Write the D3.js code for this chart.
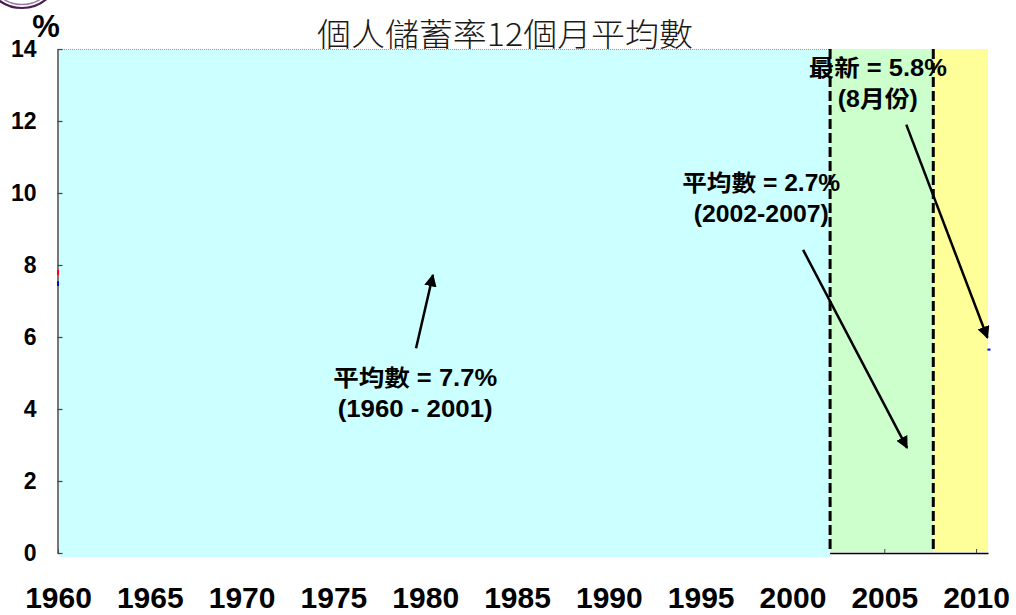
<!DOCTYPE html>
<html>
<head>
<meta charset="utf-8">
<script src="https://cdn.jsdelivr.net/npm/d3@7"></script>
<style>
  body { margin: 0; background: #fff; }
  svg { display: block; }
  text { font-family: "Liberation Sans", Arial, "Noto Sans CJK TC", sans-serif; }
</style>
</head>
<body>
<svg id="chart" width="1016" height="615"></svg>
<script>
(function() {

  // period bands (years) and their colours
  var bandNames = ["1960-2001", "2002-2007", "latest"];
  var bandStart = [1960, 2002.05, 2007.67];
  var bandEnd = [2002.05, 2007.67, 2010.65];
  var bandColors = ["#ccffff", "#ccffcc", "#ffff99"];

  // dashed period separators
  var dividers = [2002.05, 2007.67];

  var xTickYears = [1960, 1965, 1970, 1975, 1980, 1985, 1990, 1995, 2000, 2005, 2010];
  var yTicks = [0, 2, 4, 6, 8, 10, 12, 14];

  // what is left of the data lines at the edges of the plot
  var edgeYears = [1960, 1960, 2010.62];
  var edgeFrom = [7.72, 7.42, 5.65];
  var edgeTo = [7.86, 7.55, 5.65];
  var edgeColors = ["#ff0000", "#0000ff", "#0000ff"];

  // annotation labels: anchor (year, value) and two text lines
  var noteLine1 = ["平均數 = 7.7%", "平均數 = 2.7%", "最新 = 5.8%"];
  var noteLine2 = ["(1960 - 2001)", "(2002-2007)", "(8月份)"];
  var noteYear = [1979.45, 1998.3, 2004.65];
  var noteValue = [4.65, 10.05, 13.25];
  var noteWidth1 = [164, 158, 138];
  var noteWidth2 = [155, 135, 80];

  // arrows: from (year, value) to tip (year, value)
  var arrowFromYear = [1979.5, 2000.58, 2006.2];
  var arrowFromValue = [5.69, 8.42, 11.9];
  var arrowToYear = [1980.42, 2006.24, 2010.62];
  var arrowToValue = [7.72, 2.92, 5.98];

  var svg = d3.select("#chart");

  var x = d3.scaleLinear().domain([1960, 2010.65]).range([58, 988]);
  var y = d3.scaleLinear().domain([0, 14]).range([553, 49]);

  // logo remnant at top-left corner
  var logo = svg.append("g");
  logo.append("circle").attr("cx", 22).attr("cy", -30).attr("r", 38)
    .attr("fill", "none").attr("stroke", "#4b1e4f").attr("stroke-width", 2.2);
  logo.append("circle").attr("cx", 22).attr("cy", -30).attr("r", 34.5)
    .attr("fill", "none").attr("stroke", "#9a78a4").attr("stroke-width", 1.5);

  // title (sits behind the plot, bottom gets covered)
  svg.append("text")
    .attr("x", 505)
    .attr("y", 46)
    .attr("text-anchor", "middle")
    .attr("textLength", 376)
    .attr("lengthAdjust", "spacingAndGlyphs")
    .style("font-family", "'Noto Sans CJK TC', sans-serif")
    .style("font-size", "32px")
    .style("font-weight", 300)
    .attr("fill", "#1a1a1a")
    .text("個人儲蓄率12個月平均數");

  // green and yellow bands
  var bands = svg.append("g");
  bandNames.forEach(function(name, i) {
    if (i === 0) return;
    bands.append("rect")
      .attr("x", x(bandStart[i]))
      .attr("y", y(14))
      .attr("width", x(bandEnd[i]) - x(bandStart[i]))
      .attr("height", y(0) - y(14) - 1)
      .attr("fill", bandColors[i]);
  });

  // x axis
  var xAxis = svg.append("g")
    .attr("transform", "translate(0," + y(0) + ")")
    .call(d3.axisBottom(x).tickValues(xTickYears).tickFormat(d3.format("d"))
      .tickSize(-4).tickSizeOuter(0).tickPadding(34));
  xAxis.select(".domain").attr("stroke", "#000").attr("stroke-width", 1.5);
  xAxis.selectAll(".tick line").attr("stroke", "#444");
  xAxis.selectAll("text")
    .attr("fill", "#000")
    .style("font-size", "30px")
    .style("font-weight", "bold");

  // cyan band drawn over the axis line, reaching a bit below it
  svg.append("rect")
    .attr("x", x(bandStart[0]) + 1)
    .attr("y", y(14))
    .attr("width", x(bandEnd[0]) - x(bandStart[0]) - 1)
    .attr("height", y(0) - y(14) + 4)
    .attr("fill", bandColors[0]);

  svg.append("line")
    .attr("x1", x(bandStart[0])).attr("x2", x(bandEnd[0]))
    .attr("y1", y(14) + 0.5).attr("y2", y(14) + 0.5)
    .attr("stroke", "#999").attr("stroke-width", 1).attr("stroke-dasharray", "1,1");

  // y axis
  var yAxis = svg.append("g")
    .attr("transform", "translate(" + (x(1960) - 0.5) + ",0)")
    .call(d3.axisLeft(y).tickValues(yTicks).tickSize(-5).tickSizeOuter(0).tickPadding(21));
  yAxis.select(".domain").attr("stroke", "#555").attr("stroke-width", 1.6);
  yAxis.selectAll(".tick line").attr("stroke", "#444").attr("stroke-width", 1.2);
  yAxis.selectAll("text")
    .attr("fill", "#000")
    .style("font-size", "23px")
    .style("font-weight", "bold");

  svg.append("text")
    .attr("x", 46).attr("y", 37)
    .attr("text-anchor", "middle")
    .style("font-size", "31px")
    .style("font-weight", "bold")
    .text("%");

  // edge remnants of the series
  edgeYears.forEach(function(yr, i) {
    var horiz = edgeFrom[i] === edgeTo[i];
    svg.append("line")
      .attr("x1", x(yr)).attr("x2", x(yr) + (horiz ? 3 : 0))
      .attr("y1", y(edgeFrom[i])).attr("y2", y(edgeTo[i]))
      .attr("stroke", edgeColors[i]).attr("stroke-width", 2);
  });

  // dashed separators
  svg.selectAll("line.divider")
    .data(dividers)
    .enter().append("line")
    .attr("class", "divider")
    .attr("x1", d => x(d)).attr("x2", d => x(d))
    .attr("y1", y(14)).attr("y2", y(0))
    .attr("stroke", "#000")
    .attr("stroke-width", 3)
    .attr("stroke-dasharray", "10,4");

  // arrow head marker
  svg.append("defs").append("marker")
    .attr("id", "head")
    .attr("viewBox", "0 0 10 10")
    .attr("refX", 9).attr("refY", 5)
    .attr("markerWidth", 5).attr("markerHeight", 5)
    .attr("markerUnits", "strokeWidth")
    .attr("orient", "auto")
    .append("path")
    .attr("d", "M0,0 L10,5 L0,10 Z")
    .attr("fill", "#000");

  arrowFromYear.forEach(function(yr, i) {
    svg.append("line")
      .attr("x1", x(yr)).attr("y1", y(arrowFromValue[i]))
      .attr("x2", x(arrowToYear[i])).attr("y2", y(arrowToValue[i]))
      .attr("stroke", "#000")
      .attr("stroke-width", 2.5)
      .attr("marker-end", "url(#head)");
  });

  // annotation texts
  noteLine1.forEach(function(t, i) {
    var g = svg.append("g")
      .attr("transform", "translate(" + x(noteYear[i]) + "," + y(noteValue[i]) + ")");
    g.append("text")
      .attr("text-anchor", "middle")
      .attr("textLength", noteWidth1[i])
      .attr("lengthAdjust", "spacingAndGlyphs")
      .style("font-size", "23px")
      .style("font-weight", "bold")
      .text(t);
    g.append("text")
      .attr("y", 31)
      .attr("text-anchor", "middle")
      .attr("textLength", noteWidth2[i])
      .attr("lengthAdjust", "spacingAndGlyphs")
      .style("font-size", "23px")
      .style("font-weight", "bold")
      .text(noteLine2[i]);
  });

})();
</script>
</body>
</html>
